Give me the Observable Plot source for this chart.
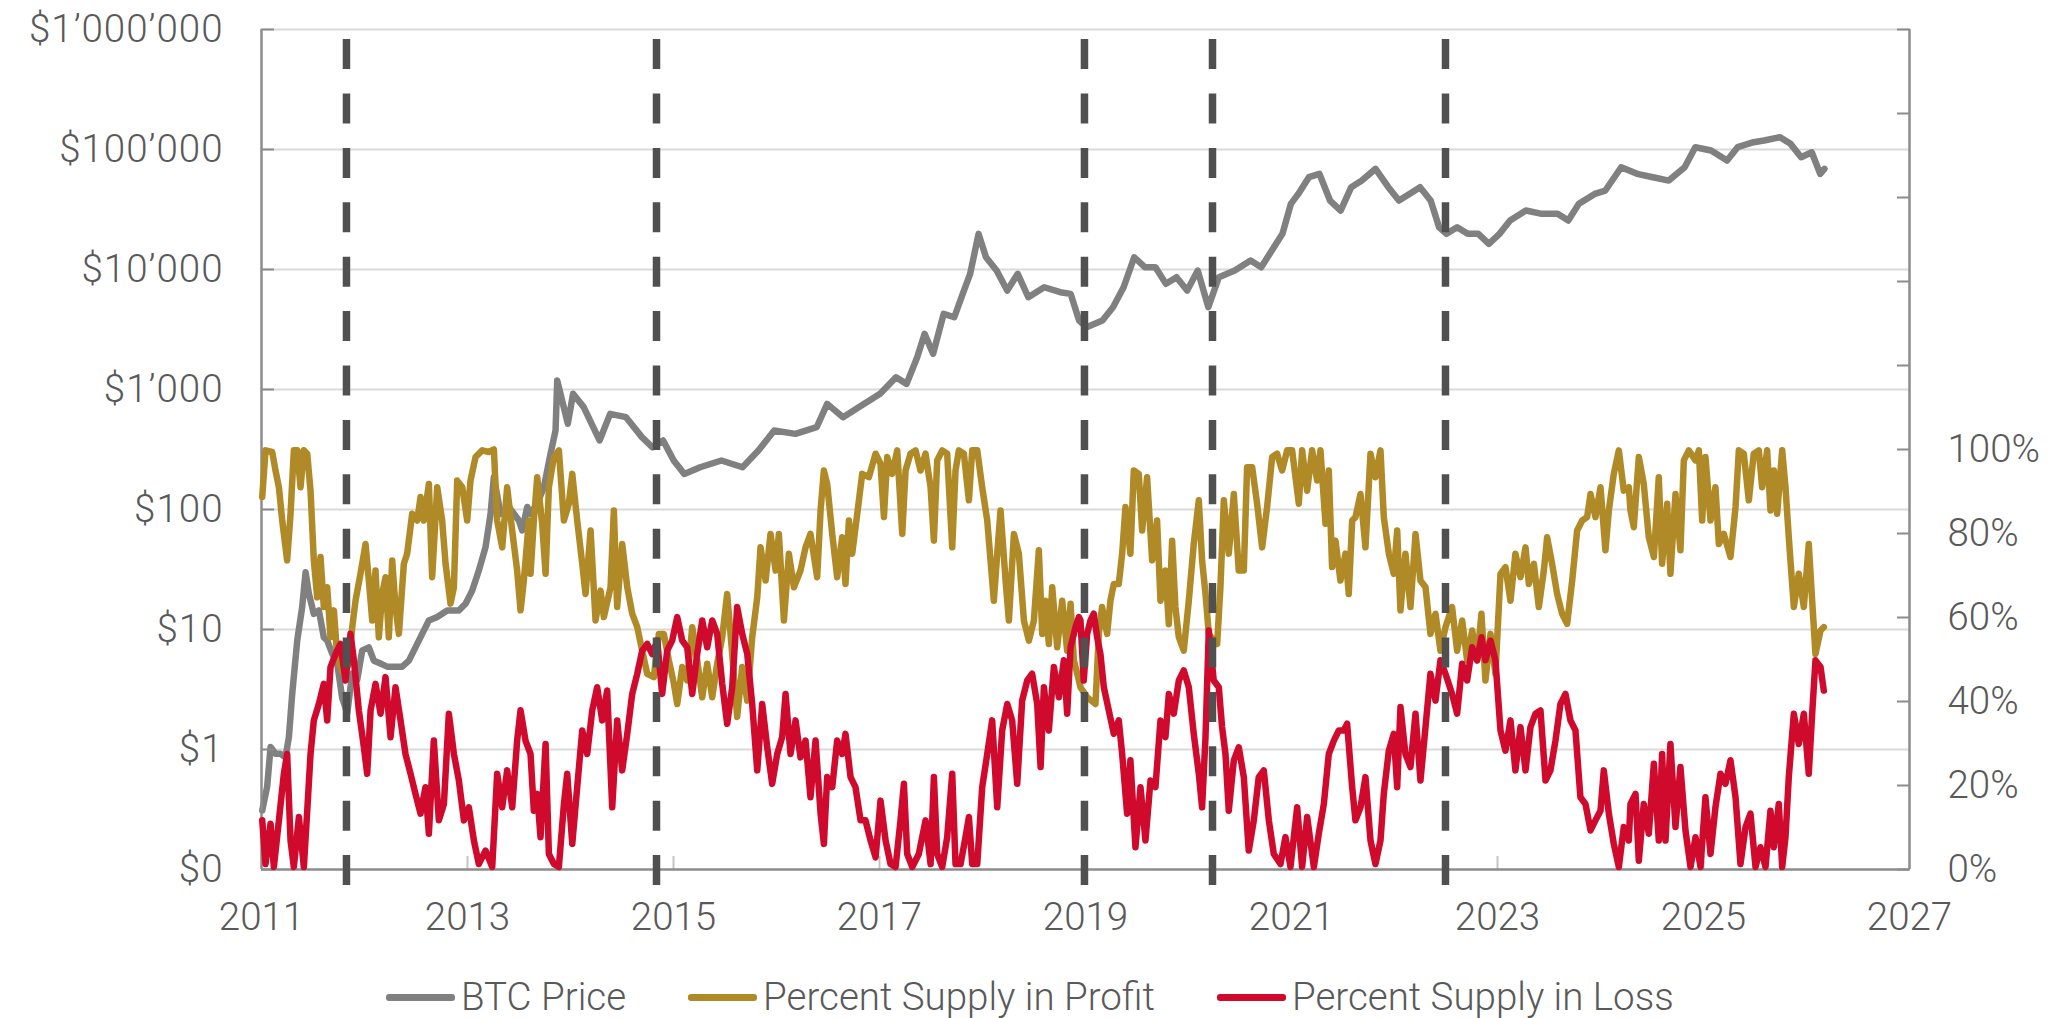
<!DOCTYPE html>
<html>
<head>
<meta charset="utf-8">
<script src="https://cdn.jsdelivr.net/npm/d3@7"></script>
<script src="https://cdn.jsdelivr.net/npm/@observablehq/plot@0.6"></script>
<style>
  html, body { margin: 0; padding: 0; background: #fff; }
  #wrap { position: relative; width: 2057px; height: 1018px; font-family: Roboto, "Liberation Sans", Arial, sans-serif; font-weight: 300; color: #595959; }
  #chartA, #chartB { position: absolute; left: 0; top: 0; }
  #chartA svg g[aria-label="y-axis tick label"] text { letter-spacing: 1px; }
  #legend { position: absolute; left: 386px; top: 978px; height: 38px; display: flex; align-items: center; font-size: 38.5px; line-height: 1; white-space: nowrap; }
  .item { display: flex; align-items: center; margin-right: 62px; }
  .sw { width: 69px; height: 7px; margin-right: 6px; border-radius: 3px; }
</style>
</head>
<body>
<div id="wrap">
  <div id="chartA"></div>
  <div id="chartB"></div>
  <div id="legend"></div>
</div>
<script>
// ---------------- DATA ----------------
const xDomain = [2011, 2027];
const xTicks = [2011, 2013, 2015, 2017, 2019, 2021, 2023, 2025, 2027];
const priceTicks = [0.1, 1, 10, 100, 1000, 10000, 100000, 1000000];
const priceTickLabels = ["$0", "$1", "$10", "$100", "$1\u2019000", "$10\u2019000", "$100\u2019000", "$1\u2019000\u2019000"];
const pctTicks = [0, 20, 40, 60, 80, 100, 120, 140, 160, 180, 200];
const pctLabelTicks = [0, 20, 40, 60, 80, 100];
const dashYears = [2011.825, 2014.835, 2018.99, 2020.233, 2022.495];
const dashExtent = [197.6, -3.8];

const seriesNames = ["BTC Price", "Percent Supply in Profit", "Percent Supply in Loss"];
const seriesColors = ["#808080", "#B08A26", "#CF0A2C"];

const priceYears = [2011.007,2011.055,2011.088,2011.136,2011.185,2011.233,2011.266,2011.298,2011.347,2011.395,2011.428,2011.460,2011.508,2011.557,2011.605,2011.638,2011.686,2011.735,2011.783,2011.832,2011.881,2011.929,2011.978,2012.042,2012.091,2012.156,2012.220,2012.301,2012.366,2012.431,2012.495,2012.560,2012.625,2012.706,2012.803,2012.916,2012.981,2013.045,2013.110,2013.175,2013.224,2013.256,2013.321,2013.402,2013.499,2013.531,2013.580,2013.612,2013.677,2013.741,2013.806,2013.855,2013.871,2013.974,2014.025,2014.128,2014.282,2014.385,2014.539,2014.693,2014.796,2014.899,2015.002,2015.105,2015.259,2015.465,2015.670,2015.824,2015.978,2016.184,2016.390,2016.492,2016.646,2016.852,2017.006,2017.160,2017.263,2017.366,2017.438,2017.520,2017.623,2017.726,2017.808,2017.880,2017.962,2018.034,2018.137,2018.240,2018.342,2018.445,2018.599,2018.755,2018.856,2018.938,2019.010,2019.164,2019.267,2019.370,2019.473,2019.576,2019.679,2019.781,2019.884,2019.987,2020.090,2020.192,2020.295,2020.449,2020.603,2020.706,2020.809,2020.912,2020.994,2021.066,2021.169,2021.271,2021.374,2021.477,2021.580,2021.683,2021.816,2021.940,2022.043,2022.145,2022.248,2022.351,2022.433,2022.505,2022.608,2022.711,2022.814,2022.916,2023.019,2023.122,2023.276,2023.430,2023.584,2023.687,2023.790,2023.944,2024.047,2024.201,2024.355,2024.509,2024.663,2024.817,2024.920,2025.074,2025.229,2025.331,2025.486,2025.588,2025.743,2025.845,2025.948,2026.051,2026.133,2026.174];
const priceValues = [0.31,0.49,1.05,0.92,0.92,0.86,1.27,2.9,8.1,15.4,30,19.9,13.5,14.4,8.6,8.1,6.3,5.2,2.7,2.0,4.3,3.8,6.7,7.1,5.5,5.2,4.9,4.9,4.9,5.5,7.1,9.2,11.9,12.7,14.4,14.4,16.4,21,31,48.5,92,186,92,105,81,67,105,92,112,153,291,456,1188,518,921,713,376,627,588,401,330,376,256,198,225,256,225,310,455,427,485,759,588,759,921,1265,1114,1858,2910,1982,4266,4000,6266,9204,19815,12650,9800,6680,9204,5875,7115,6470,6266,3760,3305,3760,4850,7115,12650,10450,10450,7590,8630,6680,9800,4850,8630,9800,11890,10450,14390,19815,35240,42660,58750,62660,37560,30990,48520,55080,69000,48520,37560,42660,48520,37560,22510,19815,22510,19815,19815,16370,19815,25590,30990,29090,29090,25590,35240,42660,45500,71120,62660,58750,55080,71120,104500,98000,80900,104500,115000,118900,126500,111400,86300,94800,62660,69000];

const profitYears = [2011.007,2011.039,2011.104,2011.136,2011.169,2011.201,2011.249,2011.282,2011.314,2011.347,2011.379,2011.411,2011.444,2011.476,2011.508,2011.541,2011.573,2011.605,2011.638,2011.670,2011.703,2011.735,2011.767,2011.800,2011.848,2011.881,2011.913,2011.961,2012.010,2012.042,2012.075,2012.107,2012.139,2012.172,2012.204,2012.236,2012.269,2012.301,2012.334,2012.382,2012.414,2012.463,2012.512,2012.544,2012.576,2012.625,2012.657,2012.706,2012.754,2012.787,2012.835,2012.868,2012.900,2012.949,2012.997,2013.029,2013.078,2013.143,2013.207,2013.256,2013.288,2013.337,2013.385,2013.434,2013.482,2013.515,2013.547,2013.596,
2013.612,2013.644,2013.677,2013.725,2013.758,2013.790,2013.839,2013.887,2013.936,2013.984,2014.017,2014.065,2014.114,2014.146,2014.195,2014.243,2014.292,2014.324,2014.389,2014.421,2014.453,2014.502,2014.551,2014.599,2014.648,2014.696,2014.745,2014.809,2014.858,2014.906,2014.955,2015.004,2015.036,2015.085,2015.133,2015.182,2015.230,2015.279,2015.327,2015.376,2015.424,2015.473,2015.521,2015.570,2015.618,2015.667,2015.716,2015.764,2015.813,2015.845,2015.894,2015.942,2015.991,2016.023,2016.072,2016.120,2016.169,2016.233,
2016.282,2016.330,2016.395,2016.428,2016.460,2016.492,2016.541,2016.589,2016.638,2016.670,2016.703,2016.735,2016.784,2016.832,2016.897,2016.962,2017.010,2017.043,2017.075,2017.123,2017.172,2017.221,2017.253,2017.301,2017.350,2017.398,2017.447,2017.496,2017.528,2017.560,2017.609,2017.657,2017.706,2017.738,2017.771,2017.819,2017.868,2017.900,2017.949,2017.997,2018.046,2018.078,2018.110,2018.143,2018.175,2018.224,2018.256,2018.305,2018.353,2018.402,2018.450,2018.499,2018.547,2018.580,2018.612,2018.644,2018.677,2018.725,2018.774,2018.822,2018.855,2018.887,2018.920,
2018.951,2019.016,2019.097,2019.129,2019.161,2019.210,2019.242,2019.275,2019.323,2019.356,2019.388,2019.436,2019.469,2019.517,2019.550,2019.598,2019.647,2019.695,2019.728,2019.776,2019.809,2019.841,2019.873,2019.906,2019.954,2020.003,2020.051,2020.100,2020.132,2020.165,2020.197,2020.245,2020.278,2020.310,2020.343,2020.391,2020.440,2020.488,2020.537,2020.569,2020.618,2020.666,2020.715,2020.763,2020.812,2020.860,2020.909,2020.958,2021.006,2021.071,2021.103,2021.152,2021.200,2021.249,2021.281,2021.330,2021.362,2021.394,2021.427,2021.475,2021.524,2021.556,2021.589,
2021.621,2021.670,2021.718,2021.767,2021.815,2021.864,2021.896,2021.945,2021.993,2022.026,2022.058,2022.106,2022.155,2022.204,2022.252,2022.301,2022.349,2022.398,2022.446,2022.495,2022.559,2022.608,2022.657,2022.705,2022.754,2022.802,2022.844,2022.883,2022.932,2022.980,2023.029,2023.077,2023.126,2023.174,2023.223,2023.272,2023.304,2023.353,2023.401,2023.450,2023.482,2023.530,2023.579,2023.627,2023.676,2023.725,2023.773,2023.822,2023.870,2023.903,2023.951,2024.000,2024.048,2024.081,2024.129,2024.178,2024.226,2024.275,
2024.291,2024.323,2024.372,2024.420,2024.469,2024.518,2024.566,2024.598,2024.647,2024.679,2024.728,2024.776,2024.809,2024.857,2024.922,2024.955,2024.987,2025.019,2025.068,2025.116,2025.149,2025.197,2025.262,2025.311,2025.343,2025.391,2025.440,2025.488,2025.537,2025.569,2025.618,2025.650,2025.683,2025.715,2025.764,2025.796,2025.828,2025.877,2025.925,2025.974,2026.022,2026.055,2026.087,2026.136,2026.168];
const profitPct = [88.7,99.8,99.4,95.0,91.0,83.1,73.6,84.7,99.8,99.8,91.0,99.8,99.0,90.2,73.6,64.8,74.4,62.5,67.2,55.3,61.7,50.6,48.2,46.6,49.0,57.7,64.0,70.4,77.5,68.8,59.3,71.2,55.3,65.6,69.6,55.3,73.6,62.5,56.1,72.8,75.2,84.7,83.1,88.7,83.1,91.8,69.6,91.0,83.1,72.8,63.3,67.2,92.6,91.0,83.1,92.6,98.2,99.8,99.4,100,83.1,76.7,91.0,80.7,71.2,61.7,68.8,83.1,
70.4,83.1,93.4,82.3,70.4,91.0,98.2,99.8,83.1,87.1,94.2,83.1,72.8,65.6,80.7,59.3,66.4,60.1,67.2,85.5,62.5,77.5,67.2,60.9,57.7,52.1,46.6,45.8,56.1,56.1,49.8,44.2,39.4,48.2,45.0,57.7,49.8,41.0,49.0,41.0,49.0,55.3,65.6,51.3,36.3,48.2,40.2,55.3,64.8,76.7,68.8,79.9,71.2,79.9,59.3,75.2,67.2,71.2,
76.7,79.9,69.6,85.5,95.0,91.8,79.9,69.6,79.1,68.0,83.1,75.2,84.7,94.2,93.4,99.0,96.6,83.9,98.2,94.2,99.8,79.9,95.0,99.0,99.8,95.0,99.0,91.0,78.3,97.4,99.8,99.0,76.7,95.0,99.8,99.0,87.9,99.8,99.8,91.0,83.1,73.6,64.0,75.2,85.5,68.8,59.3,79.9,75.2,59.3,54.5,59.3,76.0,56.1,64.0,53.7,67.2,52.9,64.0,52.1,63.3,49.8,46.6,
43.4,41.0,39.4,56.1,62.5,56.1,64.0,68.0,68.0,75.2,86.3,75.2,95.0,94.2,80.7,93.4,73.6,83.1,64.0,71.2,58.4,78.3,62.5,55.3,52.1,64.0,77.5,87.9,73.6,65.6,56.1,54.5,53.7,67.2,87.9,75.2,89.4,71.2,71.2,95.8,95.8,87.1,76.7,86.3,98.2,99.0,95.0,99.8,99.8,87.1,99.8,90.2,99.8,92.6,99.8,82.3,95.0,72.0,78.3,68.8,75.2,65.6,83.1,
83.9,89.4,76.7,99.0,93.4,99.8,83.9,75.2,70.4,80.7,61.7,75.2,62.5,79.9,68.8,67.2,56.1,60.9,52.1,57.7,62.5,52.1,59.3,49.8,56.9,49.8,60.9,45.0,56.1,46.6,70.4,72.0,64.0,75.2,69.6,76.7,68.0,72.8,62.5,71.2,79.1,72.8,65.6,60.9,58.5,68.8,80.7,83.1,83.9,89.4,83.9,91.0,76.0,85.5,94.2,99.8,90.2,91.0,
85.5,81.5,98.2,91.8,79.1,74.4,93.4,72.8,87.1,70.4,89.4,76.0,97.4,99.8,97.4,99.8,83.1,98.2,83.1,91.0,77.5,79.9,74.4,86.3,99.8,99.0,87.9,99.0,99.8,91.0,99.8,85.5,95.0,84.7,99.8,91.0,79.1,62.5,70.4,62.5,77.5,64.0,51.3,56.9,57.7];

const lossYears = [2011.007,2011.039,2011.088,2011.120,2011.169,2011.217,2011.249,2011.282,2011.314,2011.363,2011.411,2011.444,2011.476,2011.508,2011.557,2011.605,2011.638,2011.670,2011.719,2011.767,2011.816,2011.864,2011.897,2011.945,2011.994,2012.026,2012.059,2012.107,2012.156,2012.204,2012.253,2012.301,2012.350,2012.398,2012.447,2012.495,2012.544,2012.592,2012.625,2012.673,2012.722,2012.771,2012.819,2012.868,2012.916,2012.965,2013.013,2013.062,2013.110,2013.175,2013.240,2013.288,2013.337,2013.385,2013.434,2013.482,2013.515,2013.563,
2013.612,2013.644,2013.677,2013.709,2013.758,2013.790,2013.839,2013.887,2013.936,2013.968,2014.017,2014.065,2014.114,2014.162,2014.211,2014.259,2014.308,2014.356,2014.405,2014.453,2014.502,2014.551,2014.599,2014.648,2014.696,2014.745,2014.793,2014.842,2014.890,2014.939,2014.987,2015.036,2015.085,2015.133,2015.182,2015.230,2015.279,2015.327,2015.376,2015.424,2015.473,2015.521,2015.570,2015.618,2015.667,2015.716,2015.764,2015.813,2015.861,2015.910,2015.958,2016.007,2016.055,2016.088,2016.136,2016.185,2016.233,
2016.282,2016.330,2016.379,2016.428,2016.460,2016.492,2016.541,2016.589,2016.638,2016.670,2016.719,2016.767,2016.816,2016.864,2016.913,2016.962,2017.010,2017.059,2017.107,2017.156,2017.204,2017.237,2017.269,2017.318,2017.382,2017.447,2017.496,2017.528,2017.560,2017.609,2017.657,2017.706,2017.738,2017.787,2017.835,2017.868,2017.900,2017.949,2017.997,2018.046,2018.094,2018.143,2018.191,2018.240,2018.288,2018.337,2018.385,2018.434,2018.482,2018.531,2018.564,2018.596,2018.644,2018.693,2018.742,2018.790,2018.822,2018.855,2018.903,2018.936,
2018.951,2018.983,2019.016,2019.048,2019.080,2019.113,2019.145,2019.178,2019.226,2019.275,2019.323,2019.356,2019.404,2019.436,2019.485,2019.534,2019.582,2019.631,2019.679,2019.728,2019.776,2019.809,2019.857,2019.906,2019.954,2020.003,2020.051,2020.100,2020.132,2020.165,2020.197,2020.245,2020.294,2020.326,2020.359,2020.391,2020.440,2020.488,2020.537,2020.585,2020.634,2020.682,2020.731,2020.780,2020.828,2020.893,2020.941,2020.990,2021.055,2021.103,2021.152,2021.217,2021.265,2021.314,2021.362,2021.411,2021.459,2021.508,2021.540,2021.589,
2021.621,2021.670,2021.718,2021.767,2021.815,2021.864,2021.896,2021.945,2021.993,2022.026,2022.058,2022.106,2022.155,2022.204,2022.252,2022.301,2022.349,2022.398,2022.446,2022.495,2022.559,2022.608,2022.657,2022.705,2022.754,2022.802,2022.844,2022.883,2022.932,2022.980,2023.029,2023.077,2023.126,2023.174,2023.223,2023.272,2023.320,2023.369,2023.417,2023.466,2023.514,2023.563,2023.611,2023.660,2023.708,2023.757,2023.805,2023.854,2023.903,2023.951,2024.000,2024.032,2024.081,2024.129,2024.178,2024.226,2024.275,
2024.291,2024.340,2024.372,2024.420,2024.469,2024.518,2024.566,2024.598,2024.631,2024.679,2024.728,2024.776,2024.825,2024.874,2024.922,2024.971,2025.019,2025.068,2025.116,2025.165,2025.213,2025.262,2025.311,2025.359,2025.408,2025.456,2025.505,2025.553,2025.602,2025.650,2025.683,2025.731,2025.764,2025.796,2025.828,2025.877,2025.925,2025.974,2026.022,2026.055,2026.087,2026.136,2026.168];
const lossPct = [11.7,1.3,10.9,0.6,11.7,22.8,27.5,6.9,0.6,12.5,0.6,14.0,27.5,35.5,39.4,44.2,35.5,48.2,51.3,53.7,45.0,56.1,49.8,37.9,29.1,22.8,37.9,44.2,37.1,45.8,31.5,43.4,35.5,27.5,22.8,18.0,13.3,19.6,8.5,30.7,11.7,15.6,37.1,27.5,21.2,11.7,14.8,6.9,1.3,4.5,0.6,22.8,14.8,23.6,14.8,30.7,37.9,30.7,
27.5,14.0,18.0,7.7,29.9,3.7,1.3,0.6,15.6,22.8,6.1,19.6,33.1,27.5,37.9,43.4,35.5,42.6,14.8,35.5,23.6,32.3,41.8,46.6,52.1,53.7,51.3,54.5,41.8,52.1,54.5,60.1,54.5,52.9,41.8,51.3,59.3,52.9,59.3,56.1,44.2,34.7,43.4,62.5,56.1,51.3,39.4,23.6,39.4,29.1,20.4,27.5,31.5,41.8,27.5,35.5,26.7,
30.7,17.2,30.7,13.3,6.1,22.0,19.6,30.7,27.5,32.3,22.0,19.6,11.7,11.7,6.9,2.9,16.4,6.9,1.3,0.6,11.7,20.4,3.7,0.6,3.7,11.7,1.3,22.0,3.7,0.6,7.7,22.8,1.3,1.3,7.7,12.5,1.3,1.3,19.6,27.5,35.5,14.8,33.1,39.4,35.5,20.4,40.2,45.0,46.6,39.4,24.4,43.4,33.1,48.2,41.0,49.8,37.1,52.9,57.7,60.1,
59.3,45.0,56.1,59.3,60.9,55.3,51.3,43.4,37.9,32.3,35.5,27.5,13.3,26.0,5.3,19.6,6.9,21.2,19.6,35.5,31.5,41.8,37.1,45.0,47.4,43.4,32.3,22.8,14.8,31.5,56.9,45.0,43.4,33.9,27.5,14.0,26.0,29.1,22.0,4.5,11.7,22.0,23.6,11.7,3.7,1.3,7.7,0.6,14.8,0.6,12.5,0.6,8.5,15.6,27.5,30.7,33.1,33.1,34.7,19.6,
11.7,14.8,22.0,6.9,1.3,6.9,18.0,28.3,32.3,19.6,38.7,27.5,24.4,37.1,21.2,33.9,46.6,40.2,49.8,46.6,41.8,37.1,49.0,45.0,52.9,49.8,55.3,49.8,54.5,49.8,33.1,28.3,35.5,23.6,33.9,23.6,33.9,37.1,37.9,21.2,23.6,30.7,39.4,41.8,35.5,33.1,17.2,15.6,9.3,11.7,14.0,23.6,13.3,6.1,0.6,10.1,6.9,
15.6,18.0,2.1,15.6,8.5,25.2,6.9,27.5,6.9,29.9,10.1,24.4,9.3,0.6,7.7,0.6,17.2,3.7,14.8,22.8,20.4,26.0,17.2,1.3,10.1,13.3,0.6,5.3,0.6,14.0,5.3,15.6,0.6,7.7,22.0,37.1,29.9,37.1,22.8,37.1,49.8,48.2,42.6];

// ---------------- CHART ----------------
const W = 2057, H = 960;
const M = { left: 261, right: 148, top: 29, bottom: 91 };
const FONT = 'Roboto, "Liberation Sans", Arial, sans-serif';
const textColor = "#595959";
const axisColor = "#8c8c8c";
const gridColor = "#d9d9d9";
const lw = 6.5;

const priceData = priceYears.map((x, i) => ({ x, y: priceValues[i] }));
const profitData = profitYears.map((x, i) => ({ x, y: profitPct[i] }));
const lossData = lossYears.map((x, i) => ({ x, y: lossPct[i] }));
const priceLabel = new Map(priceTicks.map((t, i) => [t, priceTickLabels[i]]));

const common = {
  width: W, height: H,
  marginLeft: M.left, marginRight: M.right, marginTop: M.top, marginBottom: M.bottom,
  style: { background: "transparent", fontFamily: FONT, fontWeight: 300, fontSize: "38.5px", color: textColor, overflow: "visible" }
};

const chartA = Plot.plot({
  ...common,
  x: { domain: xDomain, label: null },
  y: { type: "log", domain: [priceTicks[0], priceTicks[priceTicks.length - 1]], label: null },
  marks: [
    Plot.gridY(priceTicks.slice(1), { stroke: gridColor, strokeOpacity: 1, strokeWidth: 2 }),
    Plot.line(priceData, { x: "x", y: "y", stroke: seriesColors[0], strokeWidth: lw, strokeLinejoin: "round", strokeLinecap: "round" }),
    Plot.axisY(priceTicks, { anchor: "left", tickSize: 13, dx: 13, stroke: axisColor, strokeWidth: 2, fill: "none" }),
    Plot.axisY(priceTicks, { anchor: "left", tickSize: 0, tickPadding: 38, fill: textColor, tickFormat: d => priceLabel.get(d) }),
    Plot.axisX(xTicks.slice(1, -1), { anchor: "bottom", tickSize: 13, dy: -13, stroke: "#c4c4c4", strokeWidth: 2, fill: "none" }),
    Plot.axisX(xTicks, { anchor: "bottom", tickSize: 0, tickPadding: 33, fill: textColor, tickFormat: d => String(d) }),
    Plot.ruleX([xDomain[0], xDomain[1]], { stroke: axisColor, strokeWidth: 2.5 }),
    Plot.ruleY([priceTicks[0]], { stroke: axisColor, strokeWidth: 2.5 })
  ]
});
document.getElementById("chartA").appendChild(chartA);

const chartB = Plot.plot({
  ...common,
  x: { domain: xDomain, axis: null },
  y: { domain: [pctTicks[0], pctTicks[pctTicks.length - 1]], label: null },
  marks: [
    Plot.line(profitData, { x: "x", y: "y", stroke: seriesColors[1], strokeWidth: lw, strokeLinejoin: "round", strokeLinecap: "round" }),
    Plot.line(lossData, { x: "x", y: "y", stroke: seriesColors[2], strokeWidth: lw, strokeLinejoin: "round", strokeLinecap: "round" }),
    Plot.ruleX(dashYears, { x: d => d, y1: dashExtent[0], y2: dashExtent[1], stroke: "#505050", strokeWidth: 7.5, strokeDasharray: "30,24.4" }),
    Plot.axisY(pctTicks, { anchor: "right", tickSize: 13, dx: -13, stroke: axisColor, strokeWidth: 2, fill: "none" }),
    Plot.axisY(pctLabelTicks, { anchor: "right", tickSize: 0, tickPadding: 38, fill: textColor, tickFormat: d => d + "%" })
  ]
});
document.getElementById("chartB").appendChild(chartB);

// ---------------- LEGEND ----------------
const legend = document.getElementById("legend");
seriesNames.forEach((name, i) => {
  const item = document.createElement("div");
  item.className = "item";
  const sw = document.createElement("span");
  sw.className = "sw";
  sw.style.background = seriesColors[i];
  const tx = document.createElement("span");
  tx.textContent = name;
  item.appendChild(sw);
  item.appendChild(tx);
  legend.appendChild(item);
});
</script>
</body>
</html>
